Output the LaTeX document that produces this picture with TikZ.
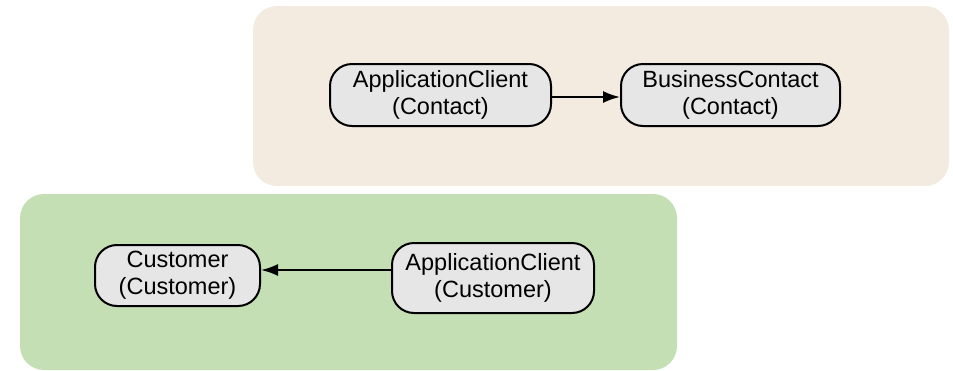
\documentclass[tikz,border=0pt]{standalone}
\usepackage{fontspec}
\setmainfont{Liberation Sans}
\usetikzlibrary{arrows.meta}
\definecolor{contactbg}{RGB}{243,234,224}
\definecolor{customerbg}{RGB}{197,223,180}
\definecolor{boxfill}{RGB}{230,230,230}
\tikzset{
  cluster/.style={rounded corners=24pt, draw=none},
  entity/.style={draw=black, line width=2pt, fill=boxfill, rounded corners=22pt,
    align=center, inner sep=0pt, font=\fontsize{23.5}{27}\selectfont},
  link/.style={line width=2pt, -{Latex[length=17pt,width=12pt]}}
}
\begin{document}
\begin{tikzpicture}[x=1pt,y=-1pt]
  \useasboundingbox (0,0) rectangle (953,370);
  % package clusters
  \fill[contactbg, cluster] (253,6) rectangle (949,186);
  \fill[customerbg, cluster] (20,194) rectangle (677,370);
  % Contact package
  \node[entity, minimum width=221pt, minimum height=62pt] (acc) at (440.5,95) {ApplicationClient\\(Contact)};
  \node[entity, minimum width=219pt, minimum height=62pt] (bc) at (730.5,95) {BusinessContact\\(Contact)};
  % Customer package
  \node[entity, minimum width=165pt, minimum height=61pt] (cust) at (177.5,275.5) {Customer\\(Customer)};
  \node[entity, minimum width=202pt, minimum height=70pt] (acu) at (493,278) {ApplicationClient\\(Customer)};
  % dependencies
  \draw[link] (acc.east) ++(0,2) coordinate (s1) (s1) -- (s1 -| bc.west);
  \draw[link] (acu.west) ++(0,-8) coordinate (s2) (s2) -- (s2 -| cust.east);
\end{tikzpicture}
\end{document}
